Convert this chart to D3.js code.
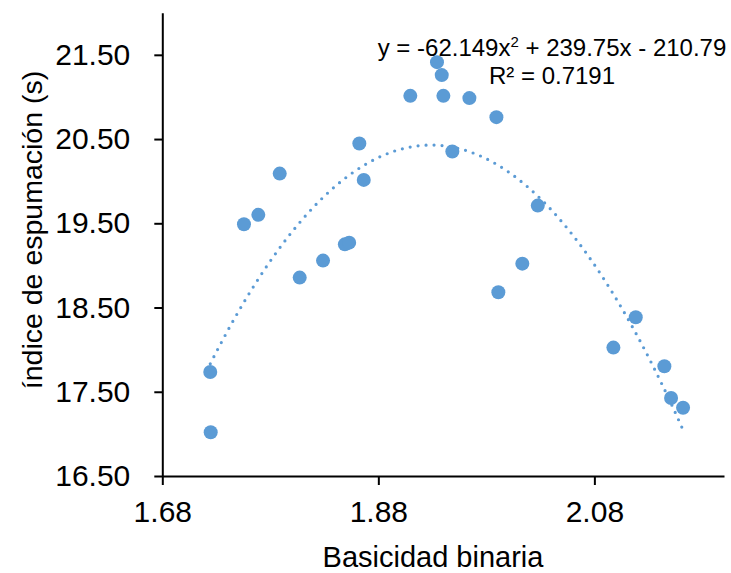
<!DOCTYPE html>
<html>
<head>
<meta charset="utf-8">
<script src="https://cdn.jsdelivr.net/npm/d3@7"></script>
<style>
  body { margin: 0; background: #fff; }
  text { font-family: "Liberation Sans", Arial, sans-serif; fill: #000; }
</style>
</head>
<body>
<svg id="canvas"></svg>
<script>
var w = 731;
var h = 573;

// data
var basicidad = [1.7244, 1.7248, 1.7556, 1.7689, 1.7887, 1.8072, 1.8288, 1.849, 1.853, 1.8624,
                 1.8665, 1.9096, 1.9343, 1.9387, 1.9402, 1.9485, 1.9643, 1.9893, 1.9911, 2.0133,
                 2.0276, 2.0976, 2.1183, 2.1448, 2.151, 2.1621]
var espumacion = [17.735, 17.019, 19.489, 19.60, 20.09, 18.855, 19.057, 19.25, 19.27, 20.447,
                  20.015, 21.013, 21.413, 21.259, 21.013, 20.352, 20.986, 20.76, 18.682, 19.021,
                  19.71, 18.024, 18.385, 17.803, 17.426, 17.311]
var xTicks = [1.68, 1.88, 2.08]
var yTicks = [16.5, 17.5, 18.5, 19.5, 20.5, 21.5]
// trendline coefficients as printed on the chart (a, b, c of ax^2 + bx + c)
var trendCoef = [-62.149, 239.75, -210.79]
var r2 = '0.7191'

var colour = '#5b9bd5'

var x = d3.scaleLinear().domain([1.68, 2.2]).range([162.3, 724])
var y = d3.scaleLinear().domain([16.5, 22]).range([476, 12.7])

var svg = d3.select('#canvas')
  .attr('width', w)
  .attr('height', h)
  .attr('viewBox', [0, 0, w, h])

svg.append('rect').attr('width', w).attr('height', h).attr('fill', '#fff')

// axes
var xAxis = svg.append('g')
  .attr('transform', 'translate(0,476)')
  .call(d3.axisBottom(x).tickValues(xTicks).tickFormat(d3.format('.2f'))
        .tickSize(9).tickSizeOuter(0).tickPadding(16))
var yAxis = svg.append('g')
  .attr('transform', 'translate(162.3,0)')
  .call(d3.axisLeft(y).tickValues(yTicks).tickFormat(d3.format('.2f'))
        .tickSize(8).tickSizeOuter(0).tickPadding(24))

svg.selectAll('.domain, .tick line')
  .attr('stroke', '#000')
  .attr('stroke-width', 2)
svg.selectAll('.tick text')
  .attr('font-size', 30)
  .attr('font-family', '"Liberation Sans", Arial, sans-serif')
  .attr('fill', '#000')

// trendline
var pts = d3.range(0, 101).map(function(i){
  var lo = d3.min(basicidad), hi = d3.max(basicidad)
  var xv = lo + (hi - lo) * i / 100
  return [xv, trendCoef[0]*xv*xv + trendCoef[1]*xv + trendCoef[2]]
})
svg.append('path')
  .datum(pts)
  .attr('d', d3.line().x(d => x(d[0])).y(d => y(d[1])))
  .attr('fill', 'none')
  .attr('stroke', colour)
  .attr('stroke-width', 3.2)
  .attr('stroke-linecap', 'round')
  .attr('stroke-dasharray', '0 8')

// points
svg.selectAll('.pt')
  .data(d3.zip(basicidad, espumacion))
  .enter()
  .append('circle')
  .attr('class', 'pt')
  .attr('cx', d => x(d[0]))
  .attr('cy', d => y(d[1]))
  .attr('r', 7)
  .attr('fill', colour)

// equation label
var eq = svg.append('text')
  .attr('x', 552)
  .attr('y', 56)
  .attr('text-anchor', 'middle')
  .attr('font-size', 24)
eq.append('tspan').text('y = ' + trendCoef[0] + 'x')
eq.append('tspan').attr('font-size', 15).attr('dy', -9).text('2')
eq.append('tspan').attr('dy', 9).text(' + ' + trendCoef[1] + 'x - ' + Math.abs(trendCoef[2]))
svg.append('text')
  .attr('x', 552)
  .attr('y', 84)
  .attr('text-anchor', 'middle')
  .attr('font-size', 24)
  .text('R² = ' + r2)

// axis titles
svg.append('text')
  .attr('x', 433)
  .attr('y', 567)
  .attr('text-anchor', 'middle')
  .attr('font-size', 29)
  .text('Basicidad binaria')
svg.append('text')
  .attr('transform', 'translate(42,230) rotate(-90)')
  .attr('text-anchor', 'middle')
  .attr('font-size', 28.5)
  .text('índice de espumación (s)')
</script>
</body>
</html>
